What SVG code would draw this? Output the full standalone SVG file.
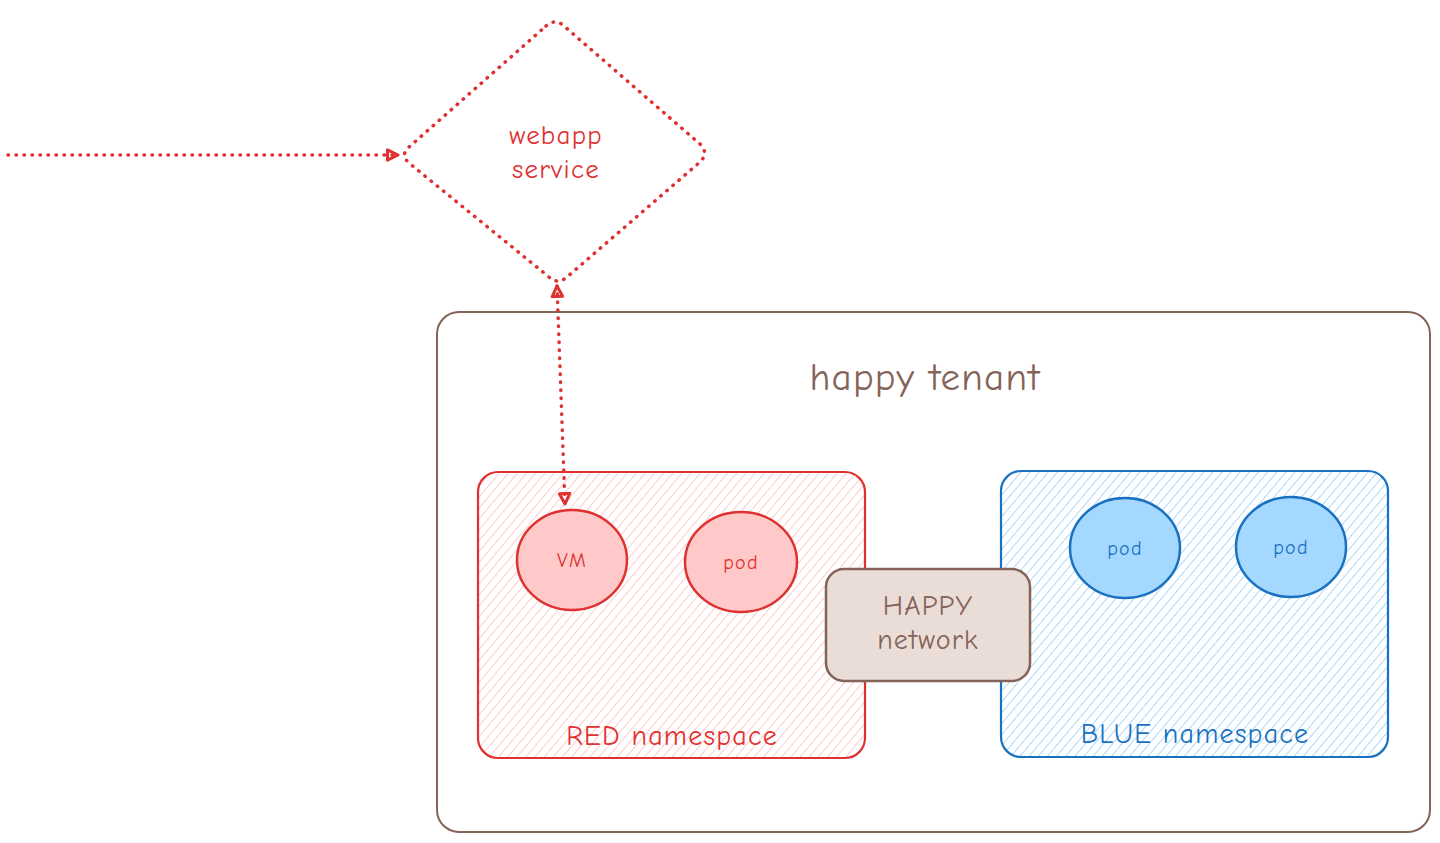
<svg xmlns="http://www.w3.org/2000/svg" width="1440" height="843" viewBox="0 0 1440 843">
<defs>
<style>
.t{font-family:"Comic Neue","Lato","Liberation Sans",sans-serif;text-anchor:middle;dominant-baseline:central;letter-spacing:1.2px;font-weight:500}
.red{fill:#e03131}
.blue{fill:#1971c2}
.brown{fill:#846358}
.dot{fill:none;stroke:#e03131;stroke-width:3.5;stroke-dasharray:0.5 7.5;stroke-linecap:round;stroke-linejoin:round}
</style>
<pattern id="hr" width="7" height="7" patternUnits="userSpaceOnUse" patternTransform="rotate(40)">
<line x1="0" y1="0" x2="0" y2="7" stroke="#ffa8a8" stroke-width="1.2"/>
</pattern>
<pattern id="hb" width="7" height="7" patternUnits="userSpaceOnUse" patternTransform="rotate(40)">
<line x1="0" y1="0" x2="0" y2="7" stroke="#74c0fc" stroke-width="1.2"/>
</pattern>
<marker id="ah" viewBox="0 0 14 14" refX="12" refY="7" markerWidth="14" markerHeight="14" markerUnits="userSpaceOnUse" orient="auto-start-reverse">
<path d="M1.5,1.8 L12,7 L1.5,12.2 Z" fill="none" stroke="#e03131" stroke-width="3" stroke-linejoin="round"/>
</marker>
</defs>

<g id="tenant">
<rect x="437" y="312" width="993" height="520" rx="22" fill="none" stroke="#846358" stroke-width="2"/>
<text class="t brown" x="925" y="377" font-size="39">happy tenant</text>
</g>

<g id="red-namespace">
<rect x="478" y="472" width="387" height="286" rx="20" fill="url(#hr)" stroke="#e03131" stroke-width="2.2"/>
<text class="t red" x="672" y="736" font-size="28">RED namespace</text>
</g>

<g id="blue-namespace">
<rect x="1001" y="471" width="387" height="286" rx="20" fill="url(#hb)" stroke="#1971c2" stroke-width="2.2"/>
<text class="t blue" x="1195" y="734" font-size="28">BLUE namespace</text>
</g>

<g id="vm">
<ellipse cx="572" cy="560" rx="55" ry="50" fill="#ffc9c9" stroke="#e03131" stroke-width="2.5"/>
<text class="t red" x="572" y="560" font-size="20">VM</text>
</g>

<g id="red-pod">
<ellipse cx="741" cy="562" rx="56" ry="50" fill="#ffc9c9" stroke="#e03131" stroke-width="2.5"/>
<text class="t red" x="741" y="562" font-size="20">pod</text>
</g>

<g id="blue-pod-1">
<ellipse cx="1125" cy="548" rx="55" ry="50" fill="#a5d8ff" stroke="#1971c2" stroke-width="2.5"/>
<text class="t blue" x="1125" y="548" font-size="20">pod</text>
</g>

<g id="blue-pod-2">
<ellipse cx="1291" cy="547" rx="55" ry="50" fill="#a5d8ff" stroke="#1971c2" stroke-width="2.5"/>
<text class="t blue" x="1291" y="547" font-size="20">pod</text>
</g>

<g id="happy-network">
<rect x="826" y="569" width="204" height="112" rx="18" fill="#eaddd7" stroke="#846358" stroke-width="2.5"/>
<text class="t brown" x="928" y="606" font-size="28">HAPPY</text>
<text class="t brown" x="928" y="640" font-size="28">network</text>
</g>

<g id="webapp-service">
<path class="dot" d="M546,26 Q555,18 564,26 L700,144 Q709,153 700,162 L567,277 Q558,285 549,277 L409,163 Q400,155 409,147 Z"/>
<text class="t red" x="556" y="135" font-size="27">webapp</text>
<text class="t red" x="556" y="169" font-size="27">service</text>
</g>

<g id="connectors">
<path class="dot" d="M8,155 L398,155" marker-end="url(#ah)"/>
<path class="dot" d="M557,286 L565,504" marker-start="url(#ah)" marker-end="url(#ah)"/>
</g>
</svg>
